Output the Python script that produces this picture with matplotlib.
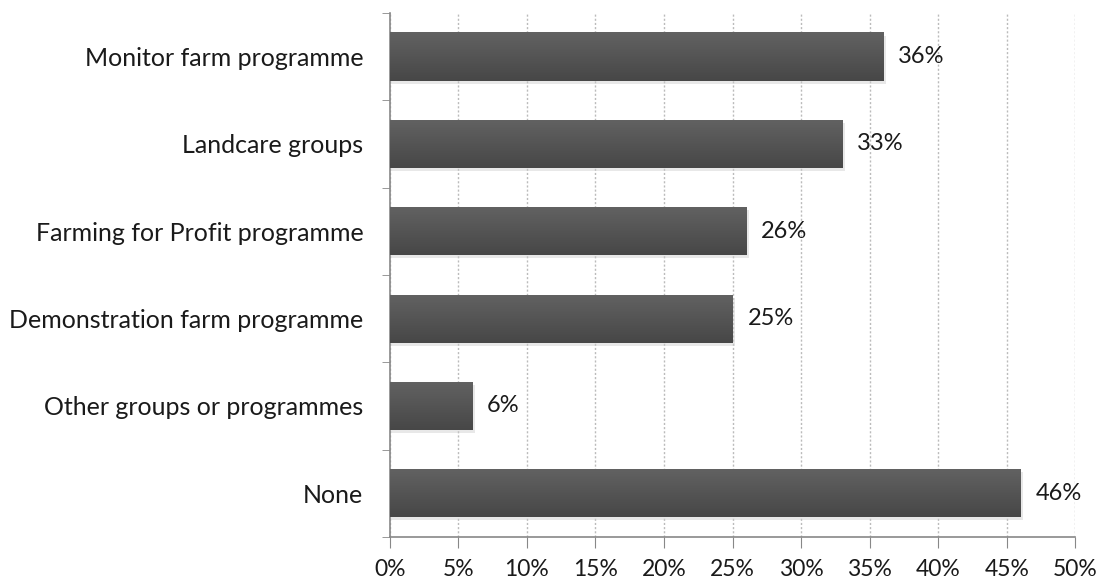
import numpy as np
import matplotlib
matplotlib.use('Agg')
import matplotlib.pyplot as plt
from matplotlib.ticker import FixedLocator, PercentFormatter

categories = ['Monitor farm programme', 'Landcare groups', 'Farming for Profit programme',
              'Demonstration farm programme', 'Other groups or programmes', 'None']
values = [36, 33, 26, 25, 6, 46]

plt.rcParams['font.family'] = ['Lato', 'DejaVu Sans']
fs = 17

fig = plt.figure(figsize=(11.04, 5.83), dpi=100)
ax = fig.add_axes([0.353, 0.079, 0.621, 0.899])

y = np.arange(len(categories))[::-1]
h = 0.55
grad = np.linspace(0, 1, 50).reshape(-1, 1)
cmap = matplotlib.colors.LinearSegmentedColormap.from_list('g', ['#474747', '#626262'])

for yi, v in zip(y, values):
    # soft shadow under the bar
    ax.barh(yi - 0.035, v + 0.2, height=h, left=0, color='#cccccc', alpha=0.45, zorder=2, linewidth=0)
    bar = ax.barh(yi, v, height=h, color='#555555', zorder=3, linewidth=0)[0]
    im = ax.imshow(grad, cmap=cmap, aspect='auto', extent=[0, v, yi - h / 2, yi + h / 2],
                   origin='lower', zorder=4)
    im.set_clip_path(bar)
    ax.text(v + 1.1, yi, f'{v}%', va='center', ha='left', fontsize=fs, color='#1a1a1a', zorder=5)

ax.set_xlim(0, 50)
ax.set_ylim(-0.5, len(categories) - 0.5)
ax.set_xticks(np.arange(0, 51, 5))
ax.xaxis.set_major_formatter(PercentFormatter(decimals=0))
ax.set_yticks(y)
ax.set_yticklabels(categories)
ax.yaxis.set_minor_locator(FixedLocator(np.arange(-0.5, len(categories), 1)))

ax.tick_params(axis='y', which='major', length=0, pad=19, labelsize=18, colors='#1a1a1a')
ax.tick_params(axis='y', which='minor', length=6, color='#888888', direction='out')
ax.tick_params(axis='x', length=8, color='#888888', pad=8, labelsize=16.5, labelcolor='#1a1a1a')

ax.grid(axis='x', linestyle=(0, (1.5, 1.5)), color='#bbbbbb', linewidth=1, zorder=0)
ax.set_axisbelow(True)
for s in ['top', 'right']:
    ax.spines[s].set_visible(False)
for s in ['left', 'bottom']:
    ax.spines[s].set_color('#888888')
    ax.spines[s].set_linewidth(1.2)

fig.savefig('out.png', dpi=100)
